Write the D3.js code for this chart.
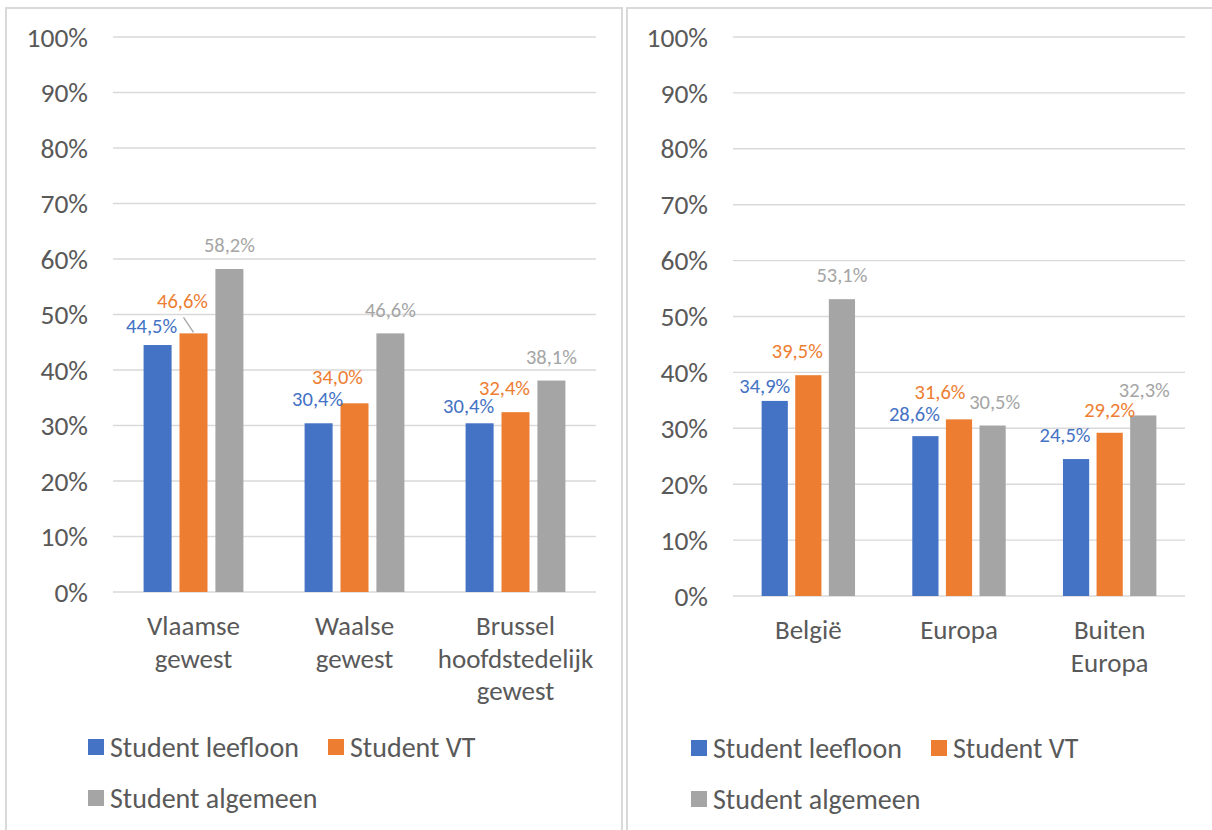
<!DOCTYPE html>
<html>
<head>
<meta charset="utf-8">
<script src="https://cdn.jsdelivr.net/npm/d3@7"></script>
<style>
  body { margin: 0; background: #fff; }
  svg { display: block; font-family: Carlito, Calibri, Lato, sans-serif; }
  .tick-label { fill: #595959; font-size: 27.5px; }
  .cat-label { fill: #595959; font-size: 27px; }
  .legend-label { fill: #595959; font-size: 28px; }
  .data-label { font-size: 20.5px; }
</style>
</head>
<body>
<div id="app"></div>
<script>
//======
// Data
//======
const seriesNames = ["Student leefloon", "Student VT", "Student algemeen"];
const yTicks = [0, 10, 20, 30, 40, 50, 60, 70, 80, 90, 100];

// left chart: per gewest
const regionCats = ["Vlaamse gewest", "Waalse gewest", "Brussel hoofdstedelijk gewest"];
const regionLeefloon = [44.5, 30.4, 30.4];
const regionVT = [46.6, 34.0, 32.4];
const regionAlgemeen = [58.2, 46.6, 38.1];

// right chart: per herkomst
const originCats = ["België", "Europa", "Buiten Europa"];
const originLeefloon = [34.9, 28.6, 24.5];
const originVT = [39.5, 31.6, 29.2];
const originAlgemeen = [53.1, 30.5, 32.3];

// manual nudges of the data labels (as dragged in the original), [dx, dy] per series/category
const regionLabelNudge = [
  [[-6, 5], [-1, 0], [-11, 7]],
  [[-11, -9], [-17, -2], [-11, 0]],
  [[0, 0], [0, 0], [0, 0]]
];
const originLabelNudge = [
  [[-10, 9], [-11, 2], [-11, 0]],
  [[-11, 0], [-19, -4], [0, 1.5]],
  [[0, 0], [2, 0], [1, -1.5]]
];

const colors = ["#4472C4", "#ED7D31", "#A5A5A5"];

const nl = d3.formatLocale({ decimal: ",", thousands: ".", grouping: [3], currency: ["€", ""] });
const fmtVal = v => nl.format(".1f")(v) + "%";

const width = 1212, height = 830;

const svg = d3.select("#app").append("svg")
  .attr("width", width)
  .attr("height", height);

svg.append("rect").attr("width", width).attr("height", height).attr("fill", "#fff");

function drawPanel(opt) {
  var g = svg.append("g");

  // panel border
  g.append("rect")
    .attr("x", opt.box[0]).attr("y", opt.box[1])
    .attr("width", opt.box[2]).attr("height", opt.box[3])
    .attr("fill", "none")
    .attr("stroke", "#D9D9D9")
    .attr("stroke-width", 2);

  var x0 = d3.scaleBand()
    .domain(opt.cats)
    .range([opt.left, opt.right])
    .paddingInner(0.38)
    .paddingOuter(0.19);

  var x1 = d3.scaleBand()
    .domain(d3.range(seriesNames.length))
    .range([0, x0.bandwidth()])
    .paddingInner(0.22);

  var y = d3.scaleLinear()
    .domain([0, 100])
    .range([opt.bottom, opt.top]);

  // gridlines
  g.append("g").selectAll("line")
    .data(yTicks)
    .enter().append("line")
    .attr("x1", opt.left).attr("x2", opt.right)
    .attr("y1", d => y(d)).attr("y2", d => y(d))
    .attr("stroke", "#D9D9D9")
    .attr("stroke-width", 1.4);

  // y labels
  g.append("g").selectAll("text")
    .data(yTicks)
    .enter().append("text")
    .attr("class", "tick-label")
    .attr("x", opt.left - 25)
    .attr("y", d => y(d))
    .attr("dy", "0.35em")
    .attr("text-anchor", "end")
    .text(d => d + "%");

  // bars
  opt.values.forEach(function(vals, s) {
    g.append("g").selectAll("rect")
      .data(vals)
      .enter().append("rect")
      .attr("x", (d, i) => x0(opt.cats[i]) + x1(s))
      .attr("y", d => y(d))
      .attr("width", x1.bandwidth())
      .attr("height", d => y(0) - y(d))
      .attr("fill", colors[s]);
  });

  // data labels
  opt.values.forEach(function(vals, s) {
    vals.forEach(function(v, i) {
      var cx = x0(opt.cats[i]) + x1(s) + x1.bandwidth() / 2;
      var nudge = opt.nudge[s][i];
      var lx = cx + nudge[0];
      var ly = y(v) - 24 + nudge[1];
      if (nudge[1] < -5) {
        // leader line back to the bar
        g.append("line")
          .attr("x1", lx + 1).attr("y1", ly + 17)
          .attr("x2", cx).attr("y2", y(v) - 1)
          .attr("stroke", "#A5A5A5")
          .attr("stroke-width", 1.3);
      }
      g.append("text")
        .attr("class", "data-label")
        .attr("x", lx)
        .attr("y", ly)
        .attr("dy", "0.35em")
        .attr("text-anchor", "middle")
        .attr("fill", colors[s])
        .text(fmtVal(v));
    });
  });

  // category labels, one word per line
  var cat = g.append("g").selectAll("text")
    .data(opt.cats)
    .enter().append("text")
    .attr("class", "cat-label")
    .attr("text-anchor", "middle")
    .attr("x", d => x0(d) + x0.bandwidth() / 2)
    .attr("y", y(0) + 34);
  cat.each(function(d) {
    var t = d3.select(this);
    d.split(" ").forEach(function(w, k) {
      t.append("tspan")
        .attr("x", x0(d) + x0.bandwidth() / 2)
        .attr("dy", k == 0 ? "0.35em" : 32.5)
        .text(w);
    });
  });

  // legend
  var legendPos = [[0, 0], [240, 0], [0, 51]];
  var lg = g.append("g").attr("transform", "translate(" + opt.legend[0] + "," + opt.legend[1] + ")");
  seriesNames.forEach(function(name, s) {
    var item = lg.append("g").attr("transform", "translate(" + legendPos[s][0] + "," + legendPos[s][1] + ")");
    item.append("rect")
      .attr("x", 0).attr("y", -8)
      .attr("width", 16).attr("height", 16)
      .attr("fill", colors[s]);
    item.append("text")
      .attr("class", "legend-label")
      .attr("x", 22)
      .attr("y", 0)
      .attr("dy", "0.35em")
      .text(name);
  });
}

drawPanel({
  box: [6, 8, 616, 840],
  left: 113, right: 596, top: 37, bottom: 592,
  cats: regionCats,
  values: [regionLeefloon, regionVT, regionAlgemeen],
  nudge: regionLabelNudge,
  legend: [88, 747]
});

drawPanel({
  box: [627, 8, 600, 840],
  left: 733, right: 1185, top: 37, bottom: 596,
  cats: originCats,
  values: [originLeefloon, originVT, originAlgemeen],
  nudge: originLabelNudge,
  legend: [691, 748]
});
</script>
</body>
</html>
